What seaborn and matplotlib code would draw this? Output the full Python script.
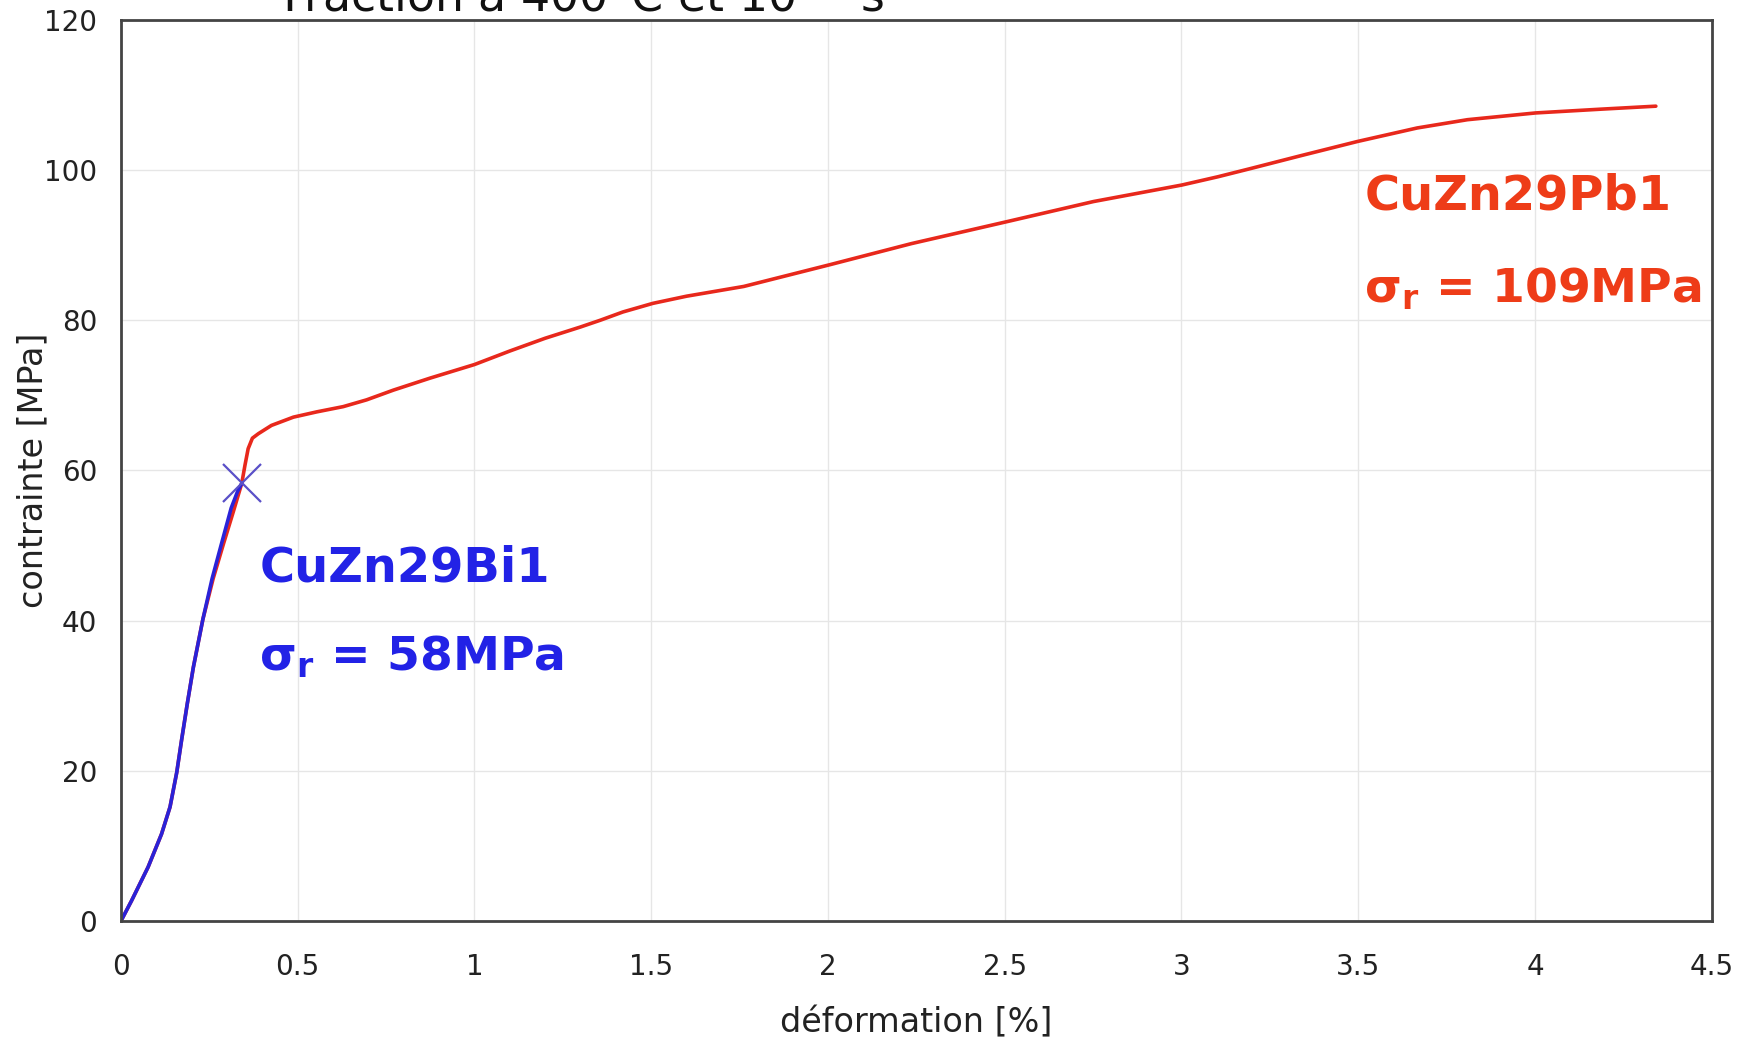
import matplotlib
matplotlib.use("Agg")
import matplotlib.pyplot as plt
import seaborn as sns
import pandas as pd

# courbes de traction
pb_def = [0, 0.030, 0.077, 0.115, 0.139, 0.158, 0.172, 0.188, 0.205, 0.232, 0.261,
          0.290, 0.318, 0.342, 0.351, 0.360, 0.372, 0.389, 0.426, 0.488, 0.554,
          0.629, 0.695, 0.771, 0.875, 1.0, 1.1, 1.2, 1.3, 1.356, 1.42, 1.505, 1.6,
          1.762, 2.006, 2.236, 2.504, 2.751, 3.001, 3.103, 3.196, 3.337, 3.498, 3.667,
          3.809, 4.002, 4.186, 4.342]
pb_sig = [0, 2.7, 7.2, 11.6, 15.2, 19.8, 24.2, 29.0, 33.8, 40.2, 45.6,
          50.2, 54.5, 58.3, 60.7, 62.9, 64.3, 64.9, 66.0, 67.1, 67.8,
          68.5, 69.4, 70.7, 72.3, 74.1, 75.9, 77.6, 79.1, 80.0, 81.1, 82.25, 83.2,
          84.5, 87.4, 90.2, 93.1, 95.8, 98.0, 99.1, 100.2, 101.9, 103.8, 105.6,
          106.7, 107.6, 108.1, 108.5]

bi_def = [0, 0.030, 0.077, 0.115, 0.139, 0.158, 0.172, 0.188, 0.205, 0.232, 0.258,
          0.286, 0.312, 0.330, 0.342]
bi_sig = [0, 2.7, 7.2, 11.6, 15.2, 19.8, 24.2, 29.0, 33.8, 40.2, 45.6,
          50.5, 55.0, 57.2, 58.3]

rupture_bi = (0.342, 58.3)

x_ticks = [0, 0.5, 1, 1.5, 2, 2.5, 3, 3.5, 4, 4.5]
x_tick_labels = ["0", "0.5", "1", "1.5", "2", "2.5", "3", "3.5", "4", "4.5"]
y_ticks = [0, 20, 40, 60, 80, 100, 120]

RED = "#e8281c"
BLUE = "#2a22d8"

df_pb = pd.DataFrame({"def": pb_def, "sig": pb_sig})
df_bi = pd.DataFrame({"def": bi_def, "sig": bi_sig})

sns.set_theme(style="whitegrid")
plt.rcParams["font.family"] = ["DejaVu Sans"]
plt.rcParams["mathtext.default"] = "regular"

fig, ax = plt.subplots(figsize=(17.52, 10.42), dpi=100)
plt.subplots_adjust(left=0.069, right=0.977, bottom=0.116, top=0.981)

sns.lineplot(data=df_pb, x="def", y="sig", ax=ax, color=RED, lw=2.6, sort=False, estimator=None)
sns.lineplot(data=df_bi, x="def", y="sig", ax=ax, color=BLUE, lw=2.6, sort=False, estimator=None)
ax.plot([rupture_bi[0]], [rupture_bi[1]], marker="x", ms=28, mew=1.6, color="#5a50c8", ls="none")

ax.set_xlim(0, 4.5)
ax.set_ylim(0, 120)
ax.set_xticks(x_ticks)
ax.set_xticklabels(x_tick_labels)
ax.set_yticks(y_ticks)
ax.tick_params(axis="both", labelsize=20, colors="#222222", length=6, width=1, direction="out")
ax.tick_params(axis="both", color="#bbbbbb")
ax.tick_params(axis="x", pad=17)
ax.tick_params(axis="y", pad=11)
ax.grid(True, color="#e6e6e6", lw=1)

for s in ax.spines.values():
    s.set_color("#444444")
    s.set_linewidth(2)

ax.set_xlabel("déformation [%]", fontsize=24, color="#222222", labelpad=18)
ax.set_ylabel("contrainte [MPa]", fontsize=24, color="#222222", labelpad=-4)

ax.text(0.392, 47, "CuZn29Bi1", color="#2222e6", fontsize=34.5, fontweight="bold", va="center")
ax.text(0.392, 35.1, r"$\mathregular{\sigma_r}$ = 58MPa", color="#2222e6", fontsize=34,
        fontweight="bold", va="center")
ax.text(3.517, 96.5, "CuZn29Pb1", color="#ee3c18", fontsize=34.5, fontweight="bold", va="center")
ax.text(3.517, 84.1, r"$\mathregular{\sigma_r}$ = 109MPa", color="#ee3c18", fontsize=34,
        fontweight="bold", va="center")

fig.text(0.157, 0.99, r"Traction à 400°C et 10$^{-3}$ s$^{-1}$", fontsize=33,
         color="#111111", ha="left", va="baseline")

plt.savefig("out.png", dpi=100)
plt.close()
